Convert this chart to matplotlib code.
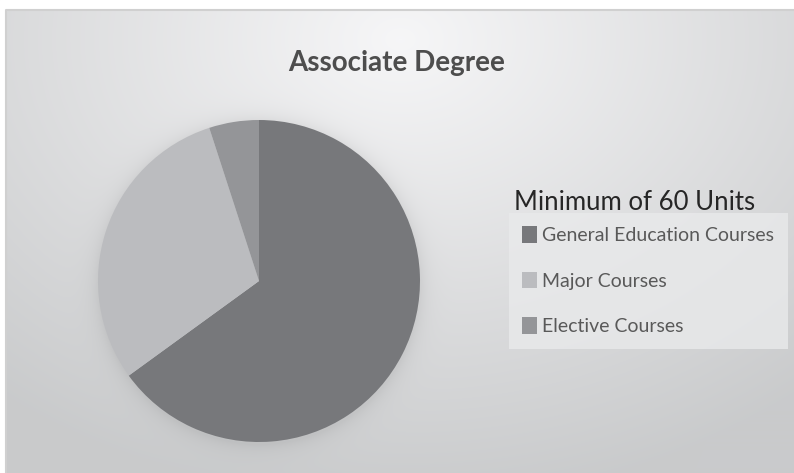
import numpy as np
import matplotlib
matplotlib.use("Agg")
import matplotlib.pyplot as plt
from matplotlib.patches import Rectangle

# data
categories = ["General Education Courses", "Major Courses", "Elective Courses"]
units = [39, 18, 3]
colors = ["#77787b", "#bbbcbf", "#949598"]
chart_title = "Associate Degree"
legend_title = "Minimum of 60 Units"

W, H = 794, 473
fig = plt.figure(figsize=(W / 100, H / 100), dpi=100)
fig.patch.set_facecolor("white")

cx, cy, r = 259, 281, 161

# background gradient (radial, light at top centre) + soft shadow round the pie
bg = fig.add_axes([0, 0, 1, 1], zorder=0)
yy, xx = np.mgrid[0:H, 0:W]
d = np.sqrt((xx - 400) ** 2 + ((yy - 40) * 1.35) ** 2)
t = np.clip(d / 620.0, 0, 1)
c0 = np.array([0.965, 0.965, 0.97])
c1 = np.array([0.79, 0.795, 0.80])
img = c0[None, None, :] * (1 - t[..., None]) + c1[None, None, :] * t[..., None]
dc = np.sqrt((xx - cx) ** 2 + (yy - cy - 2) ** 2) - r
shade = 1 - 0.07 * np.exp(-np.clip(dc, 0, None) / 9.0)
img = img * shade[..., None]
bg.imshow(img, extent=[0, W, H, 0], aspect="auto")
bg.set_xlim(0, W)
bg.set_ylim(H, 0)
bg.axis("off")
# white outside area + frame line
bg.add_patch(Rectangle((0, 0), W, 9, color="white", zorder=2))
bg.add_patch(Rectangle((0, 0), 5, H, color="white", zorder=2))
bg.plot([6, 6, W], [H, 10, 10], color="#d0d0d0", lw=1.5, zorder=3)

# pie
ax = fig.add_axes([(cx - r) / W, (H - cy - r) / H, 2 * r / W, 2 * r / H], zorder=1)
wedges, _ = ax.pie(units, colors=colors, startangle=90, counterclock=False,
                   wedgeprops=dict(linewidth=0))
ax.set_xlim(-1, 1)
ax.set_ylim(-1, 1)
ax.set_aspect("equal")
ax.axis("off")

fig.text(397 / W, 1 - 63 / H, chart_title, ha="center", va="center",
         fontsize=20, fontweight="bold", color="#4d4d4d",
         family=["Lato", "DejaVu Sans"], zorder=5)

fig.text(514 / W, 1 - 203 / H, legend_title, ha="left", va="center",
         fontsize=18.5, color="#262626", family=["Lato", "DejaVu Sans"], zorder=5)

leg = fig.legend(wedges, categories, loc="upper left",
                 bbox_to_anchor=(509 / W, 1 - 213 / H),
                 frameon=True, fancybox=False, facecolor="#e9eaeb",
                 edgecolor="none", framealpha=0.8,
                 prop={"family": ["Lato", "DejaVu Sans"], "size": 14},
                 labelcolor="#595959", handlelength=0.78, handleheight=0.93,
                 handletextpad=0.26, labelspacing=1.42, borderpad=0.68,
                 borderaxespad=0)
leg.set_zorder(5)

fig.savefig("out.png", dpi=100)
